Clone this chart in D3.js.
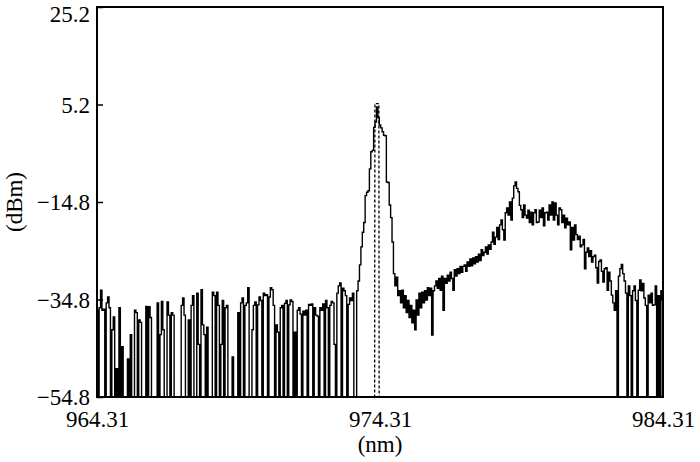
<!DOCTYPE html>
<html>
<head>
<meta charset="utf-8">
<script src="https://cdn.jsdelivr.net/npm/d3@7"></script>
<style>
  html, body { margin: 0; padding: 0; background: #fff; }
  svg { display: block; }
  text { font-family: "Liberation Serif", "Times New Roman", serif; fill: #000; }
</style>
</head>
<body>
<svg id="chart" width="700" height="462"></svg>
<script>
// ---- data ----
const xTicks = [964.31, 974.31, 984.31];
const yTicks = [25.2, 5.2, -14.8, -34.8, -54.8];
const xLabel = "(nm)";
const yLabel = "(dBm)";

// measured spectrum, one sample every 0.05 nm starting at 964.31 nm (dBm)
const wlStart = 964.31;
const wlStep = 0.05;
const spectrum = [
  // 964.31 - 965.26
  -37.0, -58, -36.5, -32.9, -37.0, -36.8, -58, -35.5, -34.3, -36.5, -58, -41.0, -38.4, -58, -49.0, -58, -36.5, -58, -44.5, -58,
  // 965.31
  -58, -58, -47.0, -58, -42.0, -58, -58, -37.0, -37.5, -58, -39.0, -39.5, -58, -58, -58, -36.2, -58, -36.3, -38.5, -58,
  // 966.31
  -58, -58, -58, -35.5, -58, -42.0, -35.2, -41.0, -58, -58, -35.3, -38.0, -58, -37.5, -38.0, -58, -58, -58, -58, -58,
  // 967.31
  -36.0, -34.5, -38.0, -58, -58, -39.0, -58, -36.0, -34.0, -58, -58, -33.5, -44.0, -58, -32.8, -40.0, -42.0, -58, -40.5, -58,
  // 968.31
  -58, -58, -33.3, -34.0, -58, -33.3, -36.0, -58, -44.0, -35.0, -58, -36.5, -36.0, -58, -58, -58, -46.6, -58, -58, -58,
  // 969.31
  -37.5, -58, -35.5, -34.5, -58, -36.0, -35.5, -32.4, -58, -58, -41.0, -36.0, -35.3, -58, -35.9, -34.3, -35.0, -58, -33.5, -34.0,
  // 970.31
  -33.8, -58, -34.3, -32.4, -32.8, -36.0, -58, -40.0, -41.5, -58, -36.5, -36.0, -58, -35.6, -35.0, -58, -35.9, -34.9, -35.2, -58,
  // 971.31
  -41.5, -58, -37.0, -36.5, -37.8, -58, -37.2, -38.0, -37.0, -58, -35.8, -36.0, -35.7, -58, -36.5, -38.0, -38.2, -58, -36.5, -37.0,
  // 972.31
  -35.7, -58, -35.0, -36.5, -58, -36.0, -35.2, -35.5, -44.0, -58, -33.5, -32.0, -31.4, -58, -32.5, -33.0, -34.0, -58, -35.8, -34.5,
  // 973.31
  -35.0, -33.5, -58, -58, -33.0, -31.0, -27.7, -24.0, -21.0, -19.0, -13.5, -12.8, -12.5, -8.0, -4.5, -4.2, 0.5, 1.6, 4.7, 2.5,
  // 974.31
  1.0, 0.4, -0.4, -1.1, -1.2, -10.7, -10.8, -15.4, -18.0, -23.0, -29.5, -32.0, -30.2, -34.0, -33.0, -35.5, -32.9, -36.5, -34.0, -37.5,
  // 975.31
  -35.0, -38.5, -36.0, -39.6, -37.0, -41.0, -34.9, -38.0, -33.5, -36.5, -33.3, -35.5, -33.0, -34.9, -32.4, -34.0, -32.5, -42.1, -33.0, -32.0,
  // 976.31
  -31.0, -32.5, -30.5, -32.9, -30.0, -37.0, -30.5, -31.5, -29.8, -31.0, -29.2, -30.5, -32.9, -28.7, -30.0, -28.5, -29.5, -28.0, -29.2, -28.0,
  // 977.31
  -27.7, -29.0, -27.1, -28.0, -26.5, -27.9, -26.3, -27.5, -26.0, -27.1, -25.5, -26.8, -24.6, -25.8, -25.1, -24.0, -25.5, -23.6, -24.5, -23.0,
  // 978.31
  -21.0, -23.5, -22.0, -20.0, -22.5, -19.5, -18.5, -20.5, -22.6, -17.0, -16.0, -17.5, -14.8, -18.5, -14.0, -11.5, -10.7, -12.0, -12.7, -15.5,
  // 979.31
  -16.4, -18.0, -15.4, -17.5, -18.1, -16.5, -19.0, -16.9, -19.5, -17.0, -16.4, -19.0, -18.9, -16.5, -18.0, -16.0, -19.7, -17.0, -16.9, -18.5,
  // 980.31
  -15.4, -17.5, -14.8, -18.5, -15.0, -17.5, -19.5, -16.0, -16.4, -19.0, -17.5, -20.1, -18.1, -19.5, -18.9, -24.6, -20.0, -22.6, -19.5, -21.5,
  // 981.31
  -22.5, -21.8, -24.0, -23.6, -22.5, -28.5, -25.1, -24.2, -26.0, -24.8, -27.1, -26.0, -25.7, -28.3, -31.4, -27.0, -26.7, -29.0, -31.2, -28.5,
  // 982.31
  -28.3, -32.9, -29.2, -31.0, -33.9, -35.5, -37.0, -33.0, -58, -30.0, -28.5, -27.6, -29.5, -31.0, -33.5, -58, -32.0, -34.0, -58, -33.0,
  // 983.31
  -32.0, -35.0, -58, -32.9, -30.8, -33.0, -31.5, -34.5, -36.0, -58, -33.9, -35.5, -33.5, -36.0, -35.9, -32.0, -58, -34.0, -58, -33.0,
  // 984.31
  -34.9
];

// narrow laser line (dashed)
const laserWl = [974.12, 974.13, 974.27, 974.28];
const laserDbm = [-58, 5.4, 5.4, -58];

// ---- layout ----
const svg = d3.select("#chart");
const m = { left: 97, top: 7, right: 663, bottom: 397 };

const x = d3.scaleLinear().domain([xTicks[0], xTicks[xTicks.length - 1]]).range([m.left, m.right]);
const y = d3.scaleLinear().domain([yTicks[yTicks.length - 1], yTicks[0]]).range([m.bottom, m.top]);

svg.append("defs").append("clipPath").attr("id", "plotclip")
  .append("rect")
  .attr("x", m.left).attr("y", m.top)
  .attr("width", m.right - m.left).attr("height", m.bottom - m.top);

const specData = spectrum.map((v, i) => [wlStart + i * wlStep, v]);
const laserData = laserWl.map((w, i) => [w, laserDbm[i]]);

const line = d3.line().x(d => x(d[0])).y(d => y(d[1])).curve(d3.curveStep);
const lineLin = d3.line().x(d => x(d[0])).y(d => y(d[1]));

const g = svg.append("g").attr("clip-path", "url(#plotclip)");
g.append("path").datum(specData)
  .attr("d", line)
  .attr("fill", "none").attr("stroke", "#000").attr("stroke-width", 1.4);

g.append("path").datum(laserData)
  .attr("d", lineLin)
  .attr("fill", "none").attr("stroke", "#000").attr("stroke-width", 1.3)
  .attr("stroke-dasharray", "3,2");

// ---- axes ----
const fmt = d => (d < 0 ? "\u2212" + Math.abs(d).toFixed(1) : d.toFixed(1));

const yAxis = svg.append("g").attr("transform", `translate(${m.left},0)`)
  .call(d3.axisLeft(y).tickValues(yTicks).tickSize(-6).tickPadding(7).tickFormat(fmt));
yAxis.select(".domain").remove();
yAxis.selectAll(".tick line").attr("stroke", "#000").attr("stroke-width", 1.5);
yAxis.selectAll(".tick text")
  .attr("font-size", 23)
  .attr("font-family", "Liberation Serif")
  .attr("dy", (d) => d === yTicks[0] ? "0.62em" : "0.34em");

const xAxis = svg.append("g").attr("transform", `translate(0,${m.bottom})`)
  .call(d3.axisBottom(x).tickValues(xTicks).tickSize(0).tickPadding(14).tickFormat(d => d.toFixed(2)));
xAxis.select(".domain").remove();
xAxis.selectAll(".tick text")
  .attr("font-size", 23)
  .attr("font-family", "Liberation Serif");

// frame
svg.append("rect")
  .attr("x", m.left).attr("y", m.top)
  .attr("width", m.right - m.left).attr("height", m.bottom - m.top)
  .attr("fill", "none").attr("stroke", "#000").attr("stroke-width", 2);

// axis titles
svg.append("text")
  .attr("x", (m.left + m.right) / 2).attr("y", 452)
  .attr("text-anchor", "middle").attr("font-size", 23)
  .text(xLabel);

svg.append("text")
  .attr("transform", `translate(22,${(m.top + m.bottom) / 2}) rotate(-90)`)
  .attr("text-anchor", "middle").attr("font-size", 23)
  .text(yLabel);
</script>
</body>
</html>
